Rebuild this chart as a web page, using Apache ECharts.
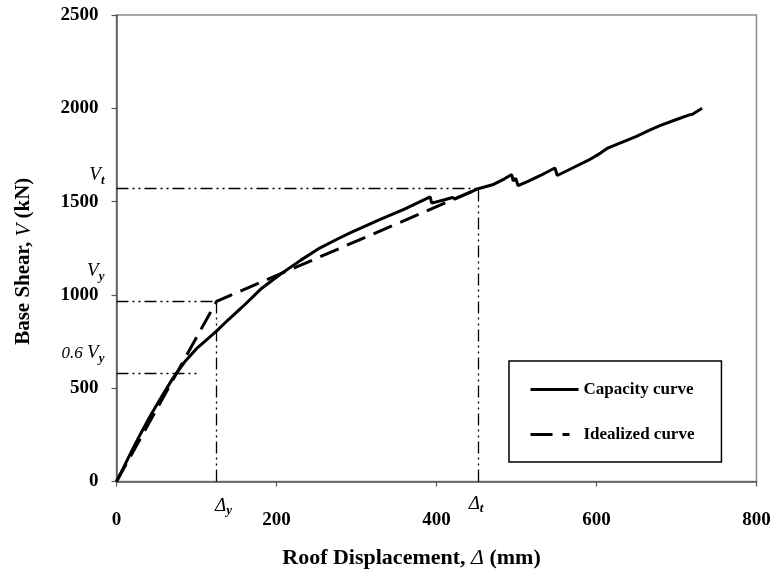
<!DOCTYPE html>
<html>
<head>
<meta charset="utf-8">
<script src="https://cdn.jsdelivr.net/npm/echarts@6/dist/echarts.min.js"></script>
<style>
html,body{margin:0;padding:0;background:#fff;}
#chart{width:775px;height:576px;}
</style>
</head>
<body>
<div id="chart"></div>
<script>
// Capacity curve (Roof displacement mm, Base shear kN)
const capX = [0, 10, 20, 30, 42, 55, 70, 85, 100, 115, 125, 140, 158, 180, 204, 230, 254, 275, 292, 329, 360, 392, 394, 410, 420, 423, 440, 452, 470, 485, 494, 496, 499, 502, 515, 530, 548, 551, 570, 590, 605, 614, 616, 630, 650, 665, 680, 700, 717, 720, 732];
const capY = [0, 85, 172, 255, 350, 445, 550, 640, 712, 768, 806, 868, 938, 1030, 1108, 1185, 1251, 1297, 1332, 1403, 1460, 1525, 1492, 1510, 1522, 1515, 1545, 1569, 1590, 1622, 1645, 1610, 1625, 1585, 1610, 1640, 1680, 1640, 1680, 1722, 1760, 1787, 1780, 1815, 1850, 1880, 1908, 1940, 1966, 1968, 2000];
// Idealized bilinear curve
const idealX = [0, 125, 452];
const idealY = [0, 965, 1569];
// Key values
const Dy = 125, Dt = 452, Vy = 965, Vt = 1569, V06 = 579, V06end = 100;
const xTicks = [0, 200, 400, 600, 800];
const yTicks = [0, 500, 1000, 1500, 2000, 2500];

const FONT = 'Liberation Serif';
const chart = echarts.init(document.getElementById('chart'));
const dd = [12, 4, 2, 4, 2, 4];
const refStyle = {color: '#000', width: 1.3, type: dd};

chart.setOption({
  animation: false,
  backgroundColor: '#fff',
  grid: {left: 116.5, right: 18.5, top: 15, bottom: 94.5, show: true, borderColor: '#8c8c8c', borderWidth: 1.5},
  legend: {
    show: true,
    orient: 'vertical',
    left: 509,
    top: 361,
    padding: [20, 27, 19, 20],
    itemGap: 28,
    itemWidth: 48,
    itemHeight: 14,
    borderColor: '#000',
    borderWidth: 1.5,
    backgroundColor: '#fff',
    itemStyle: {opacity: 0},
    lineStyle: {width: 3},
    textStyle: {fontFamily: FONT, fontWeight: 'bold', fontSize: 17, color: '#000'},
    data: [
      {name: 'Capacity curve'},
      {name: 'Idealized curve', lineStyle: {type: [22, 10, 7, 200], width: 3}}
    ]
  },
  xAxis: {
    type: 'value', min: 0, max: 800, interval: 200,
    name: 'Roof Displacement, {it|Δ} (mm)', nameLocation: 'middle', nameGap: 66,
    nameTextStyle: {fontFamily: FONT, fontWeight: 'bold', fontSize: 22, color: '#000', padding: [0, 50, 0, 0],
      rich: {it: {fontFamily: FONT, fontStyle: 'italic', fontWeight: 'normal', fontSize: 22, color: '#000'}}},
    axisLine: {lineStyle: {color: '#555', width: 1.5}},
    axisTick: {show: true, inside: false, length: 5, lineStyle: {color: '#555', width: 1.2}},
    axisLabel: {fontFamily: FONT, fontWeight: 'bold', fontSize: 19, color: '#000', margin: 29,
      formatter: v => xTicks.includes(v) ? String(v) : ''},
    splitLine: {show: false}
  },
  yAxis: {
    type: 'value', min: 0, max: 2500, interval: 500,
    name: 'Base Shear, {it|V} (kN)', nameLocation: 'middle', nameGap: 82, nameRotate: 90,
    nameTextStyle: {fontFamily: FONT, fontWeight: 'bold', fontSize: 21, color: '#000', padding: [0, 26, 0, 0],
      rich: {it: {fontFamily: FONT, fontStyle: 'italic', fontWeight: 'normal', fontSize: 21, color: '#000'}}},
    axisLine: {show: true, lineStyle: {color: '#555', width: 1.5}},
    axisTick: {show: true, inside: false, length: 5, lineStyle: {color: '#555', width: 1.2}},
    axisLabel: {fontFamily: FONT, fontWeight: 'bold', fontSize: 19, color: '#000', margin: 18,
      formatter: v => yTicks.includes(v) ? String(v) : ''},
    splitLine: {show: false}
  },
  series: [
    {
      name: 'Reference', type: 'line', data: [], silent: true,
      markLine: {
        silent: true, symbol: ['none', 'none'], label: {show: false},
        lineStyle: refStyle,
        data: [
          [{coord: [0, Vt]}, {coord: [Dt, Vt]}],
          [{coord: [Dt, 0]}, {coord: [Dt, Vt]}],
          [{coord: [0, Vy]}, {coord: [Dy, Vy]}],
          [{coord: [Dy, 0]}, {coord: [Dy, Vy]}],
          [{coord: [0, V06]}, {coord: [V06end, V06]}]
        ]
      }
    },
    {
      name: 'Capacity curve', type: 'line', showSymbol: false, symbol: 'none',
      data: capX.map((x, i) => [x, capY[i]]),
      lineStyle: {color: '#000', width: 3}, itemStyle: {color: '#000'}, z: 4
    },
    {
      name: 'Idealized curve', type: 'line', showSymbol: false, symbol: 'none',
      data: idealX.map((x, i) => [x, idealY[i]]),
      lineStyle: {color: '#000', width: 3, type: [20, 9]}, itemStyle: {color: '#000'}, z: 3
    }
  ]
});

// Annotation labels positioned from data values
const p = (x, y) => chart.convertToPixel({gridIndex: 0}, [x, y]);
const it = {fontFamily: FONT, fontStyle: 'italic', fontSize: 19, fill: '#000'};
const sub = {fontFamily: FONT, fontStyle: 'italic', fontWeight: 'bold', fontSize: 13, fill: '#000', padding: [11, 0, 0, 0]};
const rich = {v: it, s: sub, n: {fontFamily: FONT, fontStyle: 'italic', fontSize: 17, fill: '#000'}};
const pVt = p(0, Vt), pVy = p(0, Vy), p06 = p(0, V06), pDy = p(Dy, 0), pDt = p(Dt, 0);
chart.setOption({
  graphic: [
    {type: 'text', x: pVt[0] - 12, y: pVt[1] - 14, style: {text: '{v|V}{s|t}', rich, align: 'right', verticalAlign: 'middle'}},
    {type: 'text', x: pVy[0] - 12, y: pVy[1] - 30, style: {text: '{v|V}{s|y}', rich, align: 'right', verticalAlign: 'middle'}},
    {type: 'text', x: p06[0] - 12, y: p06[1] - 20, style: {text: '{n|0.6 }{v|V}{s|y}', rich, align: 'right', verticalAlign: 'middle'}},
    {type: 'text', x: pDy[0] + 7, y: pDy[1] + 24, style: {text: '{v|Δ}{s|y}', rich, align: 'center', verticalAlign: 'middle'}},
    {type: 'text', x: pDt[0] - 2, y: pDt[1] + 22, style: {text: '{v|Δ}{s|t}', rich, align: 'center', verticalAlign: 'middle'}}
  ]
});
</script>
</body>
</html>
